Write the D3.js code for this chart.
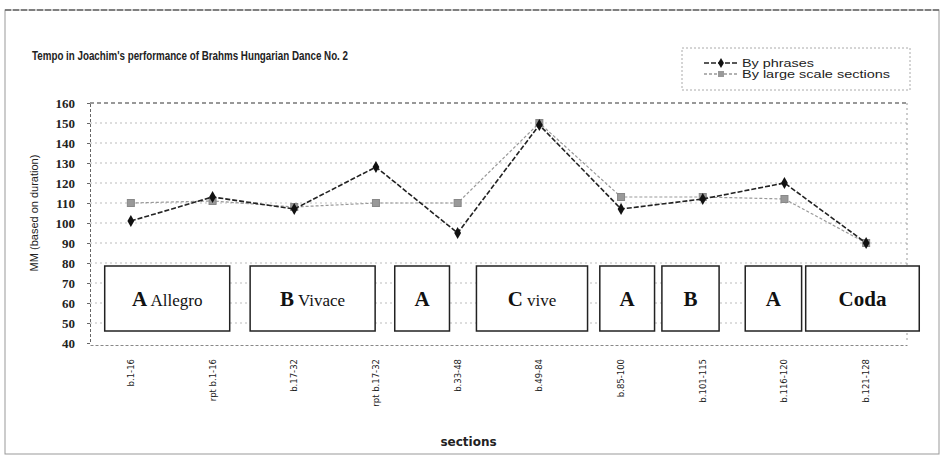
<!DOCTYPE html>
<html>
<head>
<meta charset="utf-8">
<script src="https://cdn.jsdelivr.net/npm/d3@7"></script>
<style>
body{margin:0;background:#fff}
svg{display:block}
</style>
</head>
<body>
<svg id="chart" width="944" height="458"></svg>
<script>
var sections = ['b.1-16','rpt b.1-16','b.17-32','rpt b.17-32','b.33-48','b.49-84','b.85-100','b.101-115','b.116-120','b.121-128']
var byPhrases = [101,113,107,128,95,149,107,112,120,90]
var byLarge = [110,111,108,110,110,150,113,113,112,90]
var yTicks = [40,50,60,70,80,90,100,110,120,130,140,150,160]
// form boxes: start/end in section index units, big letter, small word
var formBoxes = [
	{from:-0.32,to:1.21,big:'A',small:'Allegro'},
	{from:1.46,to:2.99,big:'B',small:'Vivace'},
	{from:3.23,to:3.90,big:'A',small:''},
	{from:4.23,to:5.59,big:'C',small:'vive'},
	{from:5.74,to:6.41,big:'A',small:''},
	{from:6.50,to:7.20,big:'B',small:''},
	{from:7.52,to:8.21,big:'A',small:''},
	{from:8.26,to:9.65,big:'',small:'Coda'}
]
var boxTop = 78.5, boxBottom = 46

var svg = d3.select('#chart')
var pLeft = 90, pRight = 907, pTop = 103, pBottom = 343

// outer frame
svg.append('rect').attr('x',5).attr('y',10).attr('width',934).attr('height',444)
	.style('fill','none').style('stroke','#999').style('stroke-width',1)
svg.append('line').attr('x1',5).attr('x2',939).attr('y1',10).attr('y2',10)
	.style('stroke','#666').style('stroke-width',1.5).style('stroke-dasharray','6,2')

svg.append('text').text("Tempo in Joachim's performance of Brahms Hungarian Dance No. 2")
	.attr('x',32).attr('y',60)
	.attr('textLength',316).attr('lengthAdjust','spacingAndGlyphs')
	.style('font-family','Liberation Sans, Arial, sans-serif').style('font-weight','bold')
	.style('font-size','13px').style('fill','#222')

var x = d3.scaleBand().domain(sections).range([pLeft,pRight])
var xi = d3.scaleLinear().domain([0,sections.length-1])
	.range([x(sections[0])+x.bandwidth()/2, x(sections[sections.length-1])+x.bandwidth()/2])
var y = d3.scaleLinear().domain([40,160]).range([pBottom,pTop])

var plot = svg.append('g').attr('id','plot')

// gridlines
plot.append('g').attr('id','grid').selectAll('line').data(yTicks.slice(1)).join('line')
	.attr('x1',pLeft).attr('x2',pRight)
	.attr('y1',d=>y(d)).attr('y2',d=>y(d))
	.style('stroke',d=>d==160?'#777':'#bbb')
	.style('stroke-width',d=>d==160?1.5:1)
	.style('stroke-dasharray',d=>d==160?'4,3':'2,3')

plot.append('line').attr('x1',pRight).attr('x2',pRight).attr('y1',pTop).attr('y2',pBottom)
	.style('stroke','#999').style('stroke-dasharray','2,3')

// axes
var yAxis = plot.append('g').attr('transform',`translate(${pLeft},0)`)
	.call(d3.axisLeft(y).tickValues(yTicks).tickSize(3).tickPadding(12))
yAxis.select('.domain').style('stroke','#666').style('stroke-dasharray','3,2')
yAxis.selectAll('line').style('stroke','#666')
yAxis.selectAll('text')
	.style('font-family','Liberation Serif, Times New Roman, serif')
	.style('font-weight','bold').style('font-size','13px').style('fill','#222')

var xAxis = plot.append('g').attr('transform',`translate(0,${pBottom+2})`)
	.call(d3.axisBottom(x).tickSize(0).tickPadding(0))
xAxis.select('.domain').style('stroke','#888').style('stroke-dasharray','3,2')
xAxis.selectAll('text')
	.attr('transform','rotate(-90)')
	.attr('x',-14).attr('y',0).attr('dy','0.35em')
	.style('text-anchor','end')
	.style('font-family','DejaVu Sans, sans-serif')
	.style('font-size','8.5px').style('fill','#222')

svg.append('text').text('MM (based on duration)')
	.attr('transform',`translate(38,${(pTop+pBottom)/2-10}) rotate(-90)`)
	.attr('text-anchor','middle')
	.style('font-family','Liberation Sans, sans-serif')
	.style('font-size','11px').style('fill','#222')

svg.append('text').text('sections')
	.attr('x',(pLeft+pRight)/2-30).attr('y',446)
	.attr('text-anchor','middle')
	.style('font-family','DejaVu Sans, sans-serif').style('font-weight','bold')
	.style('font-size','12px').style('fill','#222')

// lines
var line = d3.line().x((d,i)=>x(sections[i])+x.bandwidth()/2).y(d=>y(d))

plot.append('path').datum(byLarge).attr('d',line)
	.style('fill','none').style('stroke','#999').style('stroke-width',1.2)
	.style('stroke-dasharray','3,2')
plot.append('g').selectAll('rect').data(byLarge).join('rect')
	.attr('x',(d,i)=>x(sections[i])+x.bandwidth()/2-3.5)
	.attr('y',d=>y(d)-3.5)
	.attr('width',7).attr('height',7)
	.style('fill','#999').style('stroke','#888')

plot.append('path').datum(byPhrases).attr('d',line)
	.style('fill','none').style('stroke','#222').style('stroke-width',1.6)
	.style('stroke-dasharray','5,2')
plot.append('g').selectAll('path').data(byPhrases).join('path')
	.attr('d',d3.symbol(d3.symbolDiamond,40))
	.attr('transform',(d,i)=>`translate(${x(sections[i])+x.bandwidth()/2},${y(d)})`)
	.style('fill','#111')

// form boxes
var boxes = plot.append('g').attr('id','formBoxes').selectAll('g').data(formBoxes).join('g')
boxes.append('rect')
	.attr('x',d=>xi(d.from)).attr('width',d=>xi(d.to)-xi(d.from))
	.attr('y',y(boxTop)).attr('height',y(boxBottom)-y(boxTop))
	.style('fill','#fff').style('stroke','#222').style('stroke-width',1.5)
var label = boxes.append('text')
	.attr('x',d=>(xi(d.from)+xi(d.to))/2)
	.attr('y',(y(boxTop)+y(boxBottom))/2+7)
	.attr('text-anchor','middle')
	.style('font-family','Liberation Serif, Times New Roman, serif')
	.style('fill','#111')
label.append('tspan').text(d=>d.big)
	.style('font-weight','bold').style('font-size','21px')
label.append('tspan').text(d=>(d.big&&d.small?' ':'')+d.small)
	.style('font-weight',d=>d.big?'normal':'bold')
	.style('font-size',d=>d.big?'17px':'21px')

// legend
var legend = svg.append('g').attr('id','legend')
legend.append('rect').attr('x',682).attr('y',48).attr('width',228).attr('height',42)
	.style('fill','#fff').style('stroke','#aaa').style('stroke-dasharray','2,2')
var legItems = [
	{name:'By phrases',stroke:'#222',dash:'5,2',len:72},
	{name:'By large scale sections',stroke:'#999',dash:'3,2',len:148}
]
legItems.forEach((e,i)=>{
	var ly = 63 + i*11
	legend.append('line').attr('x1',704).attr('x2',738).attr('y1',ly).attr('y2',ly)
		.style('stroke',e.stroke).style('stroke-width',1.4).style('stroke-dasharray',e.dash)
	if (i==0)
		legend.append('path').attr('d',d3.symbol(d3.symbolDiamond,30))
			.attr('transform',`translate(721,${ly})`).style('fill','#111')
	else
		legend.append('rect').attr('x',718).attr('y',ly-3).attr('width',6).attr('height',6)
			.style('fill','#999')
	legend.append('text').text(e.name).attr('x',742).attr('y',ly+3.5)
		.attr('textLength',e.len).attr('lengthAdjust','spacingAndGlyphs')
		.style('font-family','Liberation Sans, sans-serif')
		.style('font-size','11px').style('fill','#222')
})
</script>
</body>
</html>
